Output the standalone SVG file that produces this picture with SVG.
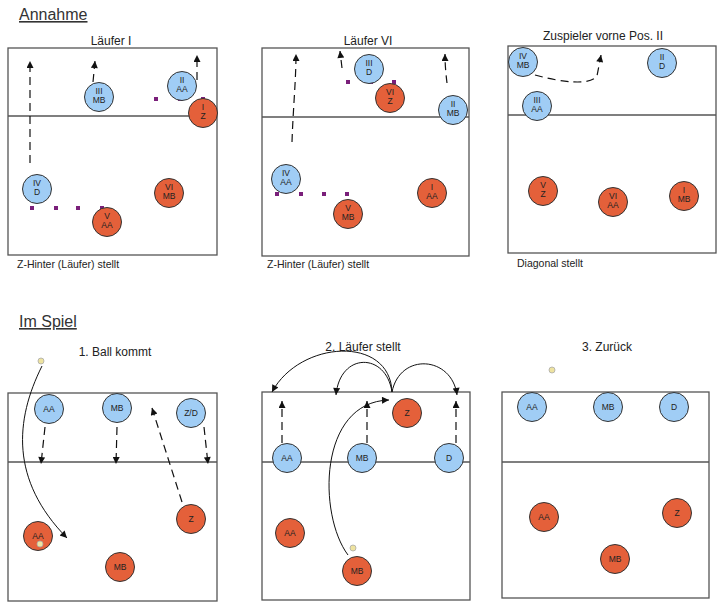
<svg xmlns="http://www.w3.org/2000/svg" width="726" height="612" viewBox="0 0 726 612">
<style>
.court{fill:#fff;stroke:#555;stroke-width:1.3}
.net{stroke:#555;stroke-width:1.3}
.b{fill:#a0cdf5;stroke:#333;stroke-width:1}
.r{fill:#e4603a;stroke:#333;stroke-width:1}
.t{font-family:"Liberation Sans",Arial,sans-serif;fill:#222}
.h{font-size:16px;text-decoration:underline;fill:#333}
.st{font-size:12px;text-anchor:middle}
.cap{font-size:10.5px}
.ct{font-size:8.5px;text-anchor:middle;fill:#222;font-family:"Liberation Sans",Arial,sans-serif}
.d{fill:none;stroke:#111;stroke-width:1.2;stroke-dasharray:8,5}
.s{fill:none;stroke:#111;stroke-width:1}
.pd{fill:#7a1f7a}
.ball{fill:#eee3a0;stroke:#aaa;stroke-width:0.8}
</style>
<defs>
<marker id="ah" viewBox="0 0 10 10" refX="10" refY="5" markerWidth="11" markerHeight="7" orient="auto" markerUnits="userSpaceOnUse"><path d="M0,0 L10,5 L0,10 z" fill="#111"/></marker>
</defs>
<rect width="726" height="612" fill="#fff"/>

<text class="t h" x="19" y="20">Annahme</text>
<text class="t h" x="19" y="327">Im Spiel</text>

<g id="court1">
<text class="t st" x="111" y="45">Läufer I</text>
<rect class="court" x="8" y="48" width="209" height="207"/>
<line class="net" x1="8" y1="116" x2="217" y2="116"/>
<text class="t cap" x="17" y="268">Z-Hinter (Läufer) stellt</text>
</g>
<g id="court2">
<text class="t st" x="368" y="45">Läufer VI</text>
<rect class="court" x="262" y="48" width="207" height="208"/>
<line class="net" x1="262" y1="117" x2="469" y2="117"/>
<text class="t cap" x="267" y="268">Z-Hinter (Läufer) stellt</text>
</g>
<g id="court3">
<text class="t st" x="603" y="40">Zuspieler vorne Pos. II</text>
<rect class="court" x="508" y="46" width="208" height="207"/>
<line class="net" x1="508" y1="115" x2="716" y2="115"/>
<text class="t cap" x="517" y="267">Diagonal stellt</text>
</g>
<g id="court4">
<text class="t st" x="115" y="356">1. Ball kommt</text>
<rect class="court" x="8" y="393" width="209" height="208"/>
<line class="net" x1="8" y1="462" x2="217" y2="462"/>
</g>
<g id="court5">
<text class="t st" x="363" y="351">2. Läufer stellt</text>
<rect class="court" x="262" y="392" width="208" height="208"/>
<line class="net" x1="262" y1="462" x2="470" y2="462"/>
</g>
<g id="court6">
<text class="t st" x="607" y="351">3. Zurück</text>
<rect class="court" x="502" y="392" width="207" height="206"/>
<line class="net" x1="502" y1="462" x2="709" y2="462"/>
</g>

<g id="connectors">
<path class="d" d="M30,163 L30,61" marker-end="url(#ah)"/>
<path class="d" d="M93,82 L95,61" marker-end="url(#ah)"/>
<path class="d" d="M197,80 L197,55" marker-end="url(#ah)"/>
<path class="d" d="M292,142 C293,110 296,80 296,54" marker-end="url(#ah)"/>
<path class="d" d="M342,68 L340,51" marker-end="url(#ah)"/>
<path class="d" d="M447,83 C446,75 445,65 445,54" marker-end="url(#ah)"/>
<path class="d" d="M535,75 C560,82 590,86 597,76 L601,55" marker-end="url(#ah)"/>

<path class="d" d="M45,427 L41,464" marker-end="url(#ah)"/>
<path class="d" d="M117,427 L116,464" marker-end="url(#ah)"/>
<path class="d" d="M204,427 L208,464" marker-end="url(#ah)"/>
<path class="d" d="M182,502 L152,408" marker-end="url(#ah)"/>
<path class="s" d="M42,366 C15,420 10,480 67,538" marker-end="url(#ah)"/>

<path class="d" d="M282,443 L282,401" marker-end="url(#ah)"/>
<path class="d" d="M367,443 L367,401" marker-end="url(#ah)"/>
<path class="d" d="M456,443 L456,401" marker-end="url(#ah)"/>
<path class="s" d="M392,392 C390,335 300,340 272,392" marker-end="url(#ah)"/>
<path class="s" d="M392,392 C386,352 340,352 336,395" marker-end="url(#ah)"/>
<path class="s" d="M392,392 C400,352 452,356 457,395" marker-end="url(#ah)"/>
<path class="s" d="M348,555 C318,515 318,402 389,400" marker-end="url(#ah)"/>
</g>

<g id="dots">
<rect class="pd" x="154" y="97" width="4" height="4"/>
<rect class="pd" x="178" y="97" width="4" height="4"/>
<rect class="pd" x="201" y="97" width="4" height="4"/>
<rect class="pd" x="30" y="206" width="4" height="4"/>
<rect class="pd" x="54" y="206" width="4" height="4"/>
<rect class="pd" x="76" y="206" width="4" height="4"/>
<rect class="pd" x="100" y="206" width="4" height="4"/>
<rect class="pd" x="346" y="80" width="4" height="4"/>
<rect class="pd" x="369" y="80" width="4" height="4"/>
<rect class="pd" x="392" y="80" width="4" height="4"/>
<rect class="pd" x="275" y="192" width="4" height="4"/>
<rect class="pd" x="299" y="192" width="4" height="4"/>
<rect class="pd" x="322" y="192" width="4" height="4"/>
<rect class="pd" x="345" y="192" width="4" height="4"/>
</g>

<g id="p1-II"><circle class="b" cx="182" cy="86" r="14.5"/><text class="ct" x="182" y="83">II</text><text class="ct" x="182" y="92">AA</text></g>
<g id="p1-III"><circle class="b" cx="99" cy="97" r="14.5"/><text class="ct" x="99" y="94">III</text><text class="ct" x="99" y="103">MB</text></g>
<g id="p1-I"><circle class="r" cx="203" cy="113" r="14.5"/><text class="ct" x="203" y="110">I</text><text class="ct" x="203" y="119">Z</text></g>
<g id="p1-IV"><circle class="b" cx="37" cy="189" r="14.5"/><text class="ct" x="37" y="186">IV</text><text class="ct" x="37" y="195">D</text></g>
<g id="p1-V"><circle class="r" cx="107" cy="222" r="14.5"/><text class="ct" x="107" y="219">V</text><text class="ct" x="107" y="228">AA</text></g>
<g id="p1-VI"><circle class="r" cx="169" cy="193" r="14.5"/><text class="ct" x="169" y="190">VI</text><text class="ct" x="169" y="199">MB</text></g>

<g id="p2-III"><circle class="b" cx="369" cy="69" r="14.5"/><text class="ct" x="369" y="66">III</text><text class="ct" x="369" y="75">D</text></g>
<g id="p2-VI"><circle class="r" cx="390" cy="98" r="14.5"/><text class="ct" x="390" y="95">VI</text><text class="ct" x="390" y="104">Z</text></g>
<g id="p2-II"><circle class="b" cx="453" cy="110" r="14.5"/><text class="ct" x="453" y="107">II</text><text class="ct" x="453" y="116">MB</text></g>
<g id="p2-IV"><circle class="b" cx="286" cy="179" r="14.5"/><text class="ct" x="286" y="176">IV</text><text class="ct" x="286" y="185">AA</text></g>
<g id="p2-V"><circle class="r" cx="348" cy="214" r="14.5"/><text class="ct" x="348" y="211">V</text><text class="ct" x="348" y="220">MB</text></g>
<g id="p2-I"><circle class="r" cx="432" cy="193" r="14.5"/><text class="ct" x="432" y="190">I</text><text class="ct" x="432" y="199">AA</text></g>

<g id="p3-IV"><circle class="b" cx="523" cy="62" r="14.5"/><text class="ct" x="523" y="59">IV</text><text class="ct" x="523" y="68">MB</text></g>
<g id="p3-II"><circle class="b" cx="662" cy="63" r="14.5"/><text class="ct" x="662" y="60">II</text><text class="ct" x="662" y="69">D</text></g>
<g id="p3-III"><circle class="b" cx="537" cy="106" r="14.5"/><text class="ct" x="537" y="103">III</text><text class="ct" x="537" y="112">AA</text></g>
<g id="p3-V"><circle class="r" cx="543" cy="191" r="14.5"/><text class="ct" x="543" y="188">V</text><text class="ct" x="543" y="197">Z</text></g>
<g id="p3-VI"><circle class="r" cx="613" cy="202" r="14.5"/><text class="ct" x="613" y="199">VI</text><text class="ct" x="613" y="208">AA</text></g>
<g id="p3-I"><circle class="r" cx="684" cy="196" r="14.5"/><text class="ct" x="684" y="193">I</text><text class="ct" x="684" y="202">MB</text></g>

<g id="p4-AA"><circle class="b" cx="49" cy="409" r="14.5"/><text class="ct" x="49" y="412">AA</text></g>
<g id="p4-MB"><circle class="b" cx="117" cy="408" r="14.5"/><text class="ct" x="117" y="411">MB</text></g>
<g id="p4-ZD"><circle class="b" cx="191" cy="413" r="14.5"/><text class="ct" x="191" y="416">Z/D</text></g>
<g id="p4-AAr"><circle class="r" cx="38" cy="536" r="14.5"/><text class="ct" x="38" y="539">AA</text></g>
<g id="p4-MBr"><circle class="r" cx="120" cy="567" r="14.5"/><text class="ct" x="120" y="570">MB</text></g>
<g id="p4-Z"><circle class="r" cx="191" cy="519" r="14.5"/><text class="ct" x="191" y="522">Z</text></g>
<g id="ball1"><circle class="ball" cx="41" cy="361" r="3"/></g>
<g id="ball2"><circle class="ball" cx="40" cy="544" r="3"/></g>

<g id="p5-AA"><circle class="b" cx="287" cy="458" r="14.5"/><text class="ct" x="287" y="461">AA</text></g>
<g id="p5-MB"><circle class="b" cx="362" cy="458" r="14.5"/><text class="ct" x="362" y="461">MB</text></g>
<g id="p5-D"><circle class="b" cx="449" cy="458" r="14.5"/><text class="ct" x="449" y="461">D</text></g>
<g id="p5-Z"><circle class="r" cx="407" cy="413" r="14.5"/><text class="ct" x="407" y="416">Z</text></g>
<g id="p5-AAr"><circle class="r" cx="290" cy="533" r="14.5"/><text class="ct" x="290" y="536">AA</text></g>
<g id="p5-MBr"><circle class="r" cx="357" cy="571" r="14.5"/><text class="ct" x="357" y="574">MB</text></g>
<g id="ball3"><circle class="ball" cx="353" cy="548" r="3"/></g>

<g id="p6-AA"><circle class="b" cx="532" cy="407" r="14.5"/><text class="ct" x="532" y="410">AA</text></g>
<g id="p6-MB"><circle class="b" cx="608" cy="407" r="14.5"/><text class="ct" x="608" y="410">MB</text></g>
<g id="p6-D"><circle class="b" cx="674" cy="407" r="14.5"/><text class="ct" x="674" y="410">D</text></g>
<g id="p6-AAr"><circle class="r" cx="544" cy="517" r="14.5"/><text class="ct" x="544" y="520">AA</text></g>
<g id="p6-MBr"><circle class="r" cx="615" cy="559" r="14.5"/><text class="ct" x="615" y="562">MB</text></g>
<g id="p6-Z"><circle class="r" cx="677" cy="513" r="14.5"/><text class="ct" x="677" y="516">Z</text></g>
<g id="ball4"><circle class="ball" cx="552" cy="370" r="3"/></g>
</svg>
